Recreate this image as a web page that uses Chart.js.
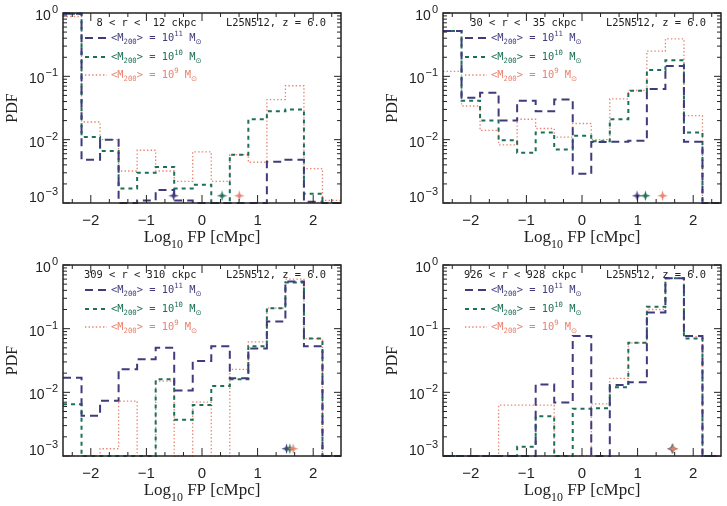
<!DOCTYPE html>
<html><head><meta charset="utf-8">
<script src="https://cdn.jsdelivr.net/npm/chart.js@4/dist/chart.umd.min.js"></script>
<style>
html,body{margin:0;padding:0;background:#fff;width:727px;height:506px;overflow:hidden}
canvas{position:absolute}
</style></head><body>
<canvas id="c1" width="347" height="253" style="left:0;top:0"></canvas>
<canvas id="c2" width="347" height="253" style="left:380px;top:0"></canvas>
<canvas id="c3" width="347" height="253" style="left:0;top:253px"></canvas>
<canvas id="c4" width="347" height="253" style="left:380px;top:253px"></canvas>
<script>
// ---------------- data ----------------
const binEdges = [-2.5, -2.1667, -1.8333, -1.5, -1.1667, -0.8333, -0.5, -0.1667, 0.1667, 0.5, 0.8333, 1.1667, 1.5, 1.8333, 2.1667, 2.5];
const seriesNames = ['11', '10', '9'];               // <M200> = 10^N Msun
const rangeLabels = ['  8 < r <  12 ckpc', ' 30 < r <  35 ckpc', '309 < r < 310 ckpc', '926 < r < 928 ckpc'];
const simLabel = 'L25N512, z = 6.0';
const xTickValues = [-2, -1, 0, 1, 2];
const xTickLabels = ['\u22122', '\u22121', '0', '1', '2'];
const yTickValues = [1e-3, 1e-2, 1e-1, 1];
const yTickExps = ['\u22123', '\u22122', '\u22121', '0'];
const yMin = 1e-3, yMax = 1;

// panel 1 : 8 < r < 12 ckpc
const p1_m11 = [0.97, 4.8e-3, 1.0e-2, 0, 1.1e-3, 1.6e-3, 1.1e-3, 0, 0, 0, 0, 4.5e-3, 4.8e-3, 1.05e-3, 0];
const p1_m10 = [0.97, 1.1e-2, 6.6e-3, 1.7e-3, 3.0e-3, 3.7e-3, 1.7e-3, 1.95e-3, 0, 5.8e-3, 2.1e-2, 2.8e-2, 3.0e-2, 1.4e-3, 0];
const p1_m9  = [0.88, 1.9e-2, 1.0e-2, 3.2e-3, 6.8e-3, 3.2e-3, 2.2e-3, 6.4e-3, 2.2e-3, 5.8e-3, 4.4e-3, 4.3e-2, 7.1e-2, 3.5e-3, 1.1e-3];
// panel 2 : 30 < r < 35 ckpc
const p2_m11 = [0.52, 4.6e-2, 5.5e-2, 2.0e-2, 4.1e-2, 2.8e-2, 4.3e-2, 2.9e-3, 9.2e-3, 9.3e-3, 9.6e-3, 6.3e-2, 1.45e-1, 9.3e-3, 0];
const p2_m10 = [0.52, 4.1e-2, 2.0e-2, 9.8e-3, 6.2e-3, 1.3e-2, 7.0e-3, 1.15e-2, 9.4e-3, 2.1e-2, 5.9e-2, 1.26e-1, 1.8e-1, 1.3e-2, 0];
const p2_m9  = [0.12, 3.4e-2, 1.4e-2, 8.3e-3, 2.1e-2, 1.5e-2, 1.1e-2, 1.8e-2, 1.0e-2, 4.4e-2, 6.0e-2, 2.5e-1, 3.9e-1, 2.4e-2, 0];
// panel 3 : 309 < r < 310 ckpc
const p3_m11 = [1.7e-2, 4.3e-3, 7.4e-3, 2.3e-2, 3.3e-2, 5.0e-2, 1.07e-2, 3.1e-2, 5.3e-2, 1.66e-2, 4.9e-2, 1.3e-1, 5.5e-1, 5.3e-2, 0];
const p3_m10 = [6.5e-3, 0, 0, 0, 0, 1.6e-2, 3.7e-3, 6.3e-3, 1.26e-2, 1.6e-2, 5.3e-2, 2.1e-1, 5.3e-1, 7.0e-2, 0];
const p3_m9  = [0, 0, 1.3e-3, 7.3e-3, 0, 1.5e-2, 0, 7.0e-3, 0, 2.3e-2, 6.2e-2, 2.1e-1, 6.0e-1, 7.0e-2, 0];
// panel 4 : 926 < r < 928 ckpc
const p4_m11 = [0, 0, 0, 0, 0, 1.33e-2, 6.9e-3, 7.7e-2, 0, 1.3e-2, 1.44e-2, 1.8e-1, 6.2e-1, 7.7e-2, 0];
const p4_m10 = [0, 0, 0, 0, 1.4e-3, 4.2e-3, 0, 5.5e-3, 5.6e-3, 1.2e-2, 6.0e-2, 2.2e-1, 6.2e-1, 7.0e-2, 0];
const p4_m9  = [0, 0, 0, 6.3e-3, 6.3e-3, 6.3e-3, 0, 0, 6.6e-3, 1.66e-2, 6.0e-2, 2.0e-1, 6.2e-1, 7.5e-2, 0];

// median markers (x = Log10 FP) per panel, order m11, m10, m9
const p1_medians = [-0.51, 0.36, 0.67];
const p2_medians = [0.99, 1.14, 1.45];
const p3_medians = [1.52, 1.58, 1.64];
const p4_medians = [1.62, 1.63, 1.64];
const markerY = 1.3e-3;

// ---------------- styles ----------------
const colors = ['#3f3b7d', '#1d7057', '#e7836f'];
const dashes = [[8, 5], [4, 4], [1.4, 2.2]];
const widths = [2, 2, 1.3];
const MONO = '"DejaVu Sans Mono", "Liberation Mono", monospace';
const SANS = '"Liberation Sans", Arial, sans-serif';
const SERIF = '"Liberation Serif", "DejaVu Serif", serif';

function steps(vals) {
  const pts = [];
  vals.forEach((v, i) => {
    const y = v > 0 ? v : yMin;
    pts.push({x: binEdges[i], y: y}, {x: binEdges[i + 1], y: y});
  });
  return pts;
}

function starImg(color) {
  const c = document.createElement('canvas');
  c.width = c.height = 11;
  const g = c.getContext('2d');
  g.fillStyle = color;
  g.beginPath();
  for (let k = 0; k < 8; k++) {
    const a = k * Math.PI / 4 - Math.PI / 2;
    const r = k % 2 ? 1.7 : 5.2;
    g.lineTo(5.5 + r * Math.cos(a), 5.5 + r * Math.sin(a));
  }
  g.closePath();
  g.fill();
  return c;
}

function rich(ctx, x, y, parts, base) {
  let cx = x;
  parts.forEach(p => {
    const size = p.s === 'n' ? base : base * 0.7;
    ctx.font = size + 'px ' + (p.f || MONO);
    const dy = p.s === 'sub' ? base * 0.38 : (p.s === 'sup' ? -base * 0.38 : 0);
    ctx.fillText(p.t, cx, y + dy);
    cx += ctx.measureText(p.t).width;
  });
  return cx;
}
function richWidth(ctx, parts, base, font) {
  let w = 0;
  parts.forEach(p => {
    const size = p.s === 'n' ? base : base * 0.7;
    ctx.font = size + 'px ' + font;
    w += ctx.measureText(p.t).width;
  });
  return w;
}

const decor = {
  id: 'decor',
  afterDatasetsDraw(chart, args, o) {
    const {ctx, chartArea: a, scales: {x, y}} = chart;
    ctx.save();
    // frame
    ctx.strokeStyle = '#222';
    ctx.lineWidth = 1.5;
    ctx.strokeRect(a.left, a.top, a.right - a.left, a.bottom - a.top);
    // ticks (inward, all sides)
    ctx.lineWidth = 1;
    ctx.beginPath();
    for (let v = -7; v <= 7; v++) {
      const val = v / 3;
      const px = x.getPixelForValue(val);
      const len = (v % 3 === 0) ? 8 : 4;
      ctx.moveTo(px, a.bottom); ctx.lineTo(px, a.bottom - len);
      ctx.moveTo(px, a.top); ctx.lineTo(px, a.top + len);
    }
    for (let k = -3; k <= 0; k++) {
      for (let m = 1; m <= 9; m++) {
        const val = m * Math.pow(10, k);
        if (val > yMax * 1.0001) break;
        const py = y.getPixelForValue(val);
        const len = m === 1 ? 7 : 4;
        ctx.moveTo(a.left, py); ctx.lineTo(a.left + len, py);
        ctx.moveTo(a.right, py); ctx.lineTo(a.right - len, py);
      }
    }
    ctx.stroke();
    // y tick labels 10^n
    ctx.fillStyle = '#222';
    ctx.textBaseline = 'middle';
    yTickValues.forEach((v, i) => {
      let py = y.getPixelForValue(v) + 3;
      if (py > a.bottom - 5) py = a.bottom - 5;
      ctx.font = '11px ' + SANS;
      const we = ctx.measureText(yTickExps[i]).width;
      ctx.font = '14px ' + SANS;
      const wb = ctx.measureText('10').width;
      const right = a.left - 5;
      ctx.fillText('10', right - we - wb - 1, py);
      ctx.font = '11px ' + SANS;
      ctx.fillText(yTickExps[i], right - we, py - 6);
    });
    // x title
    const tparts = [{t: 'Log', s: 'n', f: SERIF}, {t: '10', s: 'sub', f: SERIF}, {t: ' FP [cMpc]', s: 'n', f: SERIF}];
    const tw = richWidth(ctx, tparts, 17, SERIF);
    const cxm = (a.left + a.right) / 2;
    rich(ctx, cxm - tw / 2, a.bottom + 35, tparts, 17);
    // labels in plot
    ctx.fillStyle = '#222';
    ctx.font = '10.4px ' + MONO;
    ctx.fillText(o.range, a.left + 21, a.top + 10);
    ctx.fillText(simLabel, a.left + 163, a.top + 10);
    // legend
    const rowsY = [25, 44, 62];
    seriesNames.forEach((n, i) => {
      const ry = a.top + rowsY[i];
      ctx.save();
      ctx.strokeStyle = colors[i];
      ctx.lineWidth = widths[i];
      ctx.setLineDash(dashes[i]);
      ctx.beginPath();
      ctx.moveTo(a.left + 22, ry); ctx.lineTo(a.left + 44, ry);
      ctx.stroke();
      ctx.restore();
      ctx.fillStyle = colors[i];
      rich(ctx, a.left + 48, ry, [
        {t: '<M', s: 'n'}, {t: '200', s: 'sub'}, {t: '> = 10', s: 'n'}, {t: n, s: 'sup'},
        {t: ' M', s: 'n'}, {t: '\u2299', s: 'sub', f: '"DejaVu Sans", sans-serif'}
      ], 10.4);
    });
    ctx.restore();
  }
};

function makeChart(id, range, m11, m10, m9, medians, topPad) {
  const vals = [m11, m10, m9];
  const datasets = [];
  // median markers on top
  [2, 1, 0].forEach((i, k) => {
    datasets.push({
      type: 'scatter',
      data: [{x: medians[i], y: markerY}],
      pointStyle: starImg(colors[i]),
      pointRadius: 5,
      showLine: false,
      order: k,
      clip: 6
    });
  });
  vals.forEach((v, i) => {
    datasets.push({
      type: 'line',
      data: steps(v),
      borderColor: colors[i],
      borderWidth: widths[i],
      borderDash: dashes[i],
      pointRadius: 0,
      fill: false,
      tension: 0,
      clip: 4,
      order: 3 + i
    });
  });
  return new Chart(document.getElementById(id), {
    type: 'scatter',
    data: {datasets},
    plugins: [decor],
    options: {
      responsive: false,
      animation: false,
      devicePixelRatio: 1,
      layout: {padding: {top: topPad, right: 2, left: 0, bottom: 0}},
      plugins: {legend: {display: false}, tooltip: {enabled: false}, decor: {range}},
      scales: {
        x: {
          type: 'linear', min: -2.5, max: 2.5,
          afterBuildTicks: s => { s.ticks = xTickValues.map(v => ({value: v})); },
          afterFit: s => { s.height = 50; },
          grid: {display: false, drawTicks: false},
          border: {display: false},
          ticks: {
            padding: 9, color: '#222', font: {family: SANS, size: 15},
            maxRotation: 0, autoSkip: false,
            callback: (v, i) => xTickLabels[i]
          }
        },
        y: {
          type: 'logarithmic', min: yMin, max: yMax,
          afterBuildTicks: s => { s.ticks = yTickValues.map(v => ({value: v})); },
          afterFit: s => { s.width = 63; },
          grid: {display: false, drawTicks: false},
          border: {display: false},
          ticks: {display: false},
          title: {display: true, text: 'PDF', color: '#222', font: {family: SERIF, size: 16}, padding: {top: 3, bottom: 0}}
        }
      }
    }
  });
}

makeChart('c1', rangeLabels[0], p1_m11, p1_m10, p1_m9, p1_medians, 13);
makeChart('c2', rangeLabels[1], p2_m11, p2_m10, p2_m9, p2_medians, 13);
makeChart('c3', rangeLabels[2], p3_m11, p3_m10, p3_m9, p3_medians, 12);
makeChart('c4', rangeLabels[3], p4_m11, p4_m10, p4_m9, p4_medians, 12);
</script>
</body></html>
